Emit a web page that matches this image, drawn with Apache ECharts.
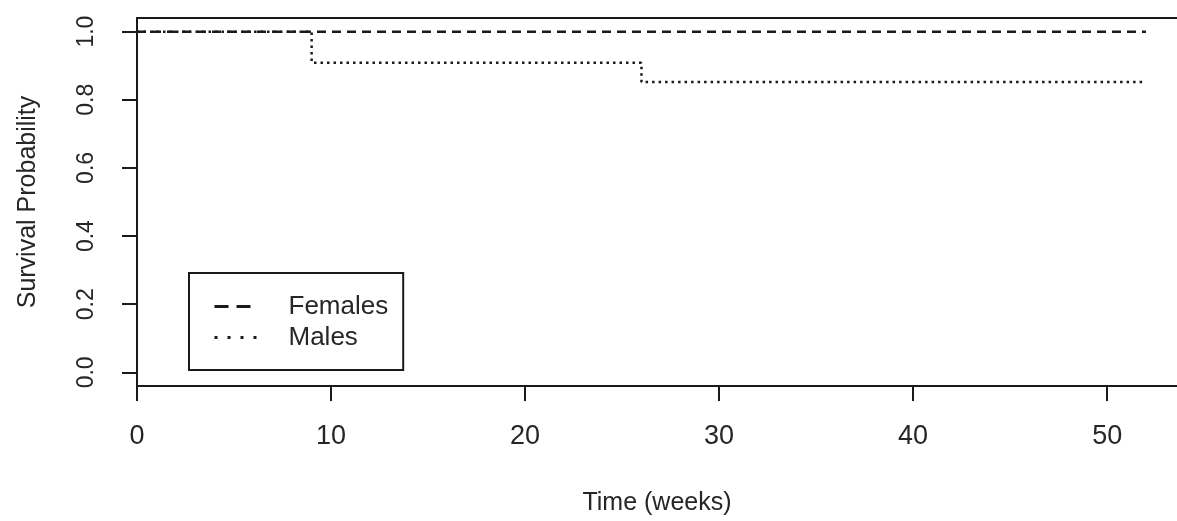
<!DOCTYPE html>
<html>
<head>
<meta charset="utf-8">
<script src="https://cdn.jsdelivr.net/npm/echarts@6/dist/echarts.min.js"></script>
<style>html,body{margin:0;padding:0;background:#fff;}#chart{width:1177px;height:521px;}</style>
</head>
<body>
<div id="chart"></div>
<script>
// Data (Kaplan–Meier step curves)
const femalesTime = [0, 52];
const femalesSurv = [1.0, 1.0];
const malesTime = [0, 9, 26, 52];
const malesSurv = [1.0, 0.909, 0.852, 0.852];
const xTicks = [0, 10, 20, 30, 40, 50];
const yTicks = [0.0, 0.2, 0.4, 0.6, 0.8, 1.0];
const seriesNames = ['Females', 'Males'];
const xTitle = 'Time (weeks)';
const yTitle = 'Survival Probability';

const zip = (a, b) => a.map((v, i) => [v, b[i]]);
const ink = '#1a1a1a';
const textInk = '#262626';
const font = 'Liberation Sans, Arial, sans-serif';

const chart = echarts.init(document.getElementById('chart'), null, {renderer: 'canvas'});
chart.setOption({
  animation: false,
  backgroundColor: '#ffffff',
  grid: {left: 137, right: 0, top: 18, bottom: 133, containLabel: false},
  xAxis: [{
    type: 'value', min: 0, max: 53.6, interval: 10, position: 'bottom',
    name: xTitle, nameLocation: 'middle', nameGap: 105,
    nameTextStyle: {fontFamily: font, fontSize: 25, color: textInk},
    axisLine: {show: true, onZero: false, lineStyle: {color: ink, width: 2}},
    axisTick: {show: true, length: 15, lineStyle: {color: ink, width: 2}, customValues: xTicks},
    axisLabel: {fontFamily: font, fontSize: 27, color: textInk, margin: 37, customValues: xTicks, formatter: v => String(v)},
    splitLine: {show: false}
  }, {
    type: 'value', min: 0, max: 53.6, position: 'top',
    axisLine: {show: true, onZero: false, lineStyle: {color: ink, width: 2}},
    axisTick: {show: false}, axisLabel: {show: false}, splitLine: {show: false}
  }],
  yAxis: {
    type: 'value', min: -0.04, max: 1.04,
    name: yTitle, nameLocation: 'middle', nameGap: 96,
    nameTextStyle: {fontFamily: font, fontSize: 25, color: textInk},
    axisLine: {show: true, onZero: false, lineStyle: {color: ink, width: 2}},
    axisTick: {show: true, length: 15, lineStyle: {color: ink, width: 2}, customValues: yTicks},
    axisLabel: {fontFamily: font, fontSize: 23, color: textInk, rotate: 90, margin: 39,
      customValues: yTicks, formatter: v => v.toFixed(1)},
    splitLine: {show: false}
  },
  legend: {
    show: true, orient: 'vertical', left: 189, top: 273,
    data: [
      {name: seriesNames[0], lineStyle: {type: [14, 8], width: 3, color: ink}},
      {name: seriesNames[1], lineStyle: {type: [3, 10], width: 3, color: ink}}
    ],
    itemWidth: 44, itemHeight: 31, itemGap: 0,
    itemStyle: {opacity: 0},
    padding: [18, 15, 17, 24],
    borderColor: ink, borderWidth: 2, borderRadius: 0,
    backgroundColor: '#ffffff',
    textStyle: {fontFamily: font, fontSize: 26, color: textInk, padding: [0, 0, 0, 25], lineHeight: 31},
    selectedMode: false
  },
  series: [{
    name: seriesNames[0], type: 'line', step: 'end', symbol: 'none',
    data: zip(femalesTime, femalesSurv),
    lineStyle: {color: ink, width: 2.5, type: [9, 6]},
    itemStyle: {color: ink}
  }, {
    name: seriesNames[1], type: 'line', step: 'end', symbol: 'none',
    data: zip(malesTime, malesSurv),
    lineStyle: {color: ink, width: 2.5, type: [2.5, 4]},
    itemStyle: {color: ink}
  }]
});
</script>
</body>
</html>
